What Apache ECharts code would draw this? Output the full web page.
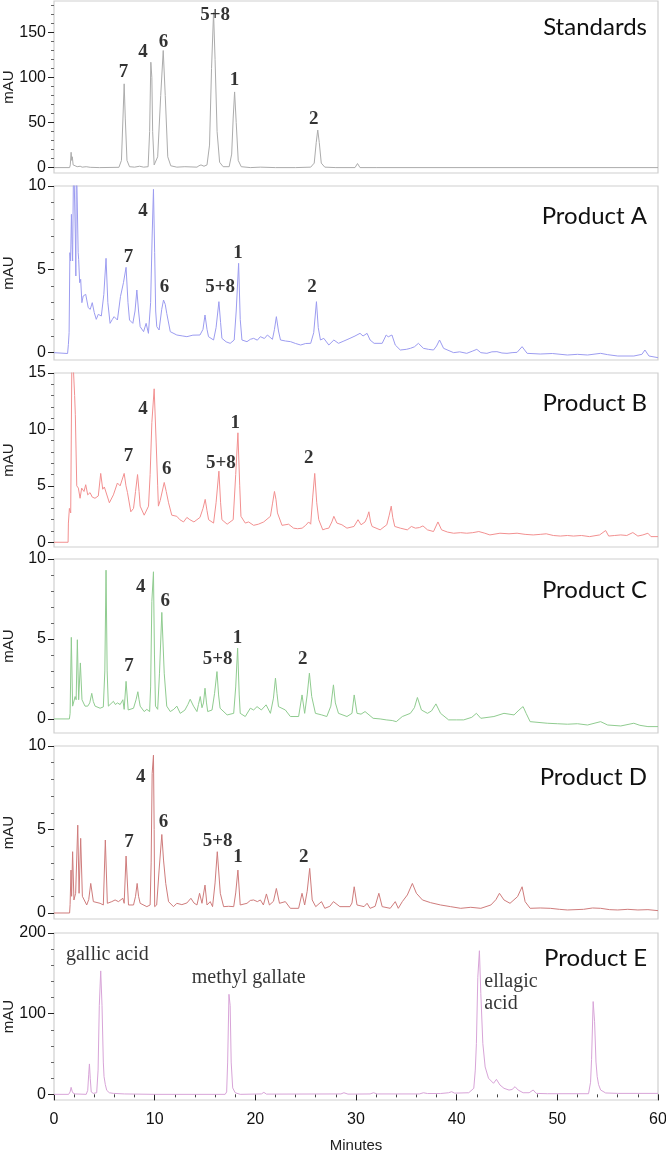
<!DOCTYPE html>
<html><head><meta charset="utf-8">
<script src="https://cdn.jsdelivr.net/npm/echarts@6/dist/echarts.min.js"></script>
<style>html,body{margin:0;padding:0;background:#fff}#c{width:666px;height:1150px}</style>
</head><body><div id="c"></div>
<script>
// ---- data (retention time in minutes, absorbance in mAU) ----
const panelNames = ['Standards','Product A','Product B','Product C','Product D','Product E'];
const yTicks = [[0,50,100,150],[0,5,10],[0,5,10,15],[0,5,10],[0,5,10],[0,100,200]];
const xTicks = [0,10,20,30,40,50,60];

const stdTrace = [[0,0],[1.55,0],[1.62,3],[1.7,17],[1.76,8],[1.82,12],[1.9,3],[2.1,2],[2.3,1],[2.6,1.5],[2.8,0.5],[3.2,1],[3.6,0.3],[4.5,0],[6.45,0.3],[6.7,8],[6.85,55],[6.97,93],[7.08,55],[7.25,8],[7.5,1],[8.0,0.5],[8.5,1.5],[8.9,0.5],[9.35,1],[9.5,40],[9.62,117],[9.72,100],[9.8,40],[9.95,3],[10.1,5],[10.3,12],[10.6,80],[10.85,130],[11.05,80],[11.3,12],[11.6,2],[12.2,0.5],[13,1],[14.2,0.5],[14.4,2],[14.6,3],[14.9,1.5],[15.2,3],[15.45,25],[15.65,110],[15.85,172],[16.0,120],[16.2,40],[16.45,6],[16.8,1],[17.4,1],[17.65,15],[17.8,55],[17.94,84],[18.1,50],[18.3,8],[18.6,1],[19.5,0],[20.5,0.5],[22,0],[24,0],[25.5,0.5],[25.85,5],[26.05,28],[26.2,41.7],[26.35,28],[26.55,5],[26.9,0.5],[28,0],[29.9,0],[30.15,4.5],[30.4,0],[32,0],[60,0]];

const prodA = [[0,0],[1.35,-0.05],[1.43,0.5],[1.5,1.2],[1.58,6.0],[1.65,5.5],[1.73,8.3],[1.8,6.5],[1.85,5.5],[1.95,12],[2.05,12],[2.12,7],[2.17,4.6],[2.22,12],[2.32,12],[2.4,6],[2.45,5.6],[2.55,4.2],[2.65,4.4],[2.77,3.0],[2.9,3.4],[3.0,3.5],[3.15,3.5],[3.4,2.7],[3.6,2.6],[3.8,3.0],[4.0,2.4],[4.2,2.0],[4.4,2.3],[4.7,2.2],[4.95,3.5],[5.17,5.66],[5.35,3.0],[5.57,1.76],[5.8,2.0],[5.97,2.16],[6.3,1.96],[6.6,3.36],[6.9,4.2],[7.16,5.12],[7.35,3.0],[7.5,1.96],[7.83,1.76],[8.05,2.5],[8.23,3.76],[8.4,2.5],[8.56,1.56],[8.9,1.26],[9.15,1.76],[9.38,1.16],[9.6,3],[9.75,7],[9.88,9.8],[10.0,6],[10.1,2.5],[10.21,1.56],[10.44,1.36],[10.7,2.6],[10.88,3.16],[11.05,2.9],[11.2,2.36],[11.55,1.26],[12.2,1.06],[12.8,1.0],[13.2,0.96],[13.8,1.05],[14.5,1.06],[14.8,1.4],[15.0,2.26],[15.2,1.4],[15.35,0.96],[15.85,0.76],[16.1,1.5],[16.38,3.06],[16.55,1.8],[16.68,0.86],[17.1,0.65],[17.5,0.56],[17.9,0.76],[18.1,2.5],[18.34,5.36],[18.5,2.0],[18.67,0.76],[19.17,0.66],[19.5,0.8],[19.83,0.86],[20.2,0.75],[20.5,0.96],[20.9,0.85],[21.2,1.06],[21.7,0.8],[21.9,1.4],[22.09,2.16],[22.3,1.3],[22.5,0.76],[23.0,0.7],[23.5,0.66],[24.0,0.55],[24.5,0.46],[25.0,0.55],[25.5,0.56],[25.8,1.2],[26.07,3.06],[26.25,1.5],[26.47,0.76],[26.8,0.86],[27.3,0.46],[27.8,0.76],[28.26,0.56],[28.8,0.7],[29.4,0.86],[29.9,1.0],[30.4,1.16],[30.7,1.0],[31.1,1.16],[31.4,0.76],[31.8,0.56],[32.6,0.56],[33.0,1.06],[33.2,0.95],[33.57,1.06],[33.9,0.46],[34.4,0.16],[35.0,0.2],[35.4,0.26],[35.8,0.35],[36.2,0.56],[36.7,0.26],[37.2,0.2],[37.7,0.16],[38.0,0.4],[38.3,0.76],[38.7,0.26],[39.7,0.0],[40.3,0.05],[41.0,-0.04],[41.6,0.1],[42.0,0.2],[42.4,0.0],[43.0,-0.04],[43.5,0.05],[44.0,0.06],[44.5,-0.02],[45.0,-0.04],[45.5,0.0],[46.0,0.02],[46.5,0.36],[47.0,-0.04],[48.3,-0.08],[49.5,-0.05],[51.0,-0.14],[52.0,-0.1],[53.0,-0.14],[54.3,-0.04],[55.0,-0.12],[56.0,-0.2],[57.6,-0.2],[58.4,-0.1],[58.7,0.16],[59.1,-0.2],[60,-0.3]];

const prodB = [[0,0],[1.4,0],[1.43,1.7],[1.53,3.0],[1.66,2.6],[1.79,18],[1.95,18],[2.05,13],[2.12,11.3],[2.19,11.3],[2.26,5.0],[2.42,4.8],[2.59,3.9],[2.75,4.8],[2.98,4.5],[3.15,5.1],[3.35,4.2],[3.58,4.4],[3.8,4.0],[4.07,3.9],[4.4,4.1],[4.64,6.1],[4.84,4.7],[5.0,4.9],[5.17,4.8],[5.5,3.5],[5.9,4.2],[6.3,5.25],[6.57,5.0],[6.97,6.1],[7.15,5.0],[7.3,4.4],[7.63,2.7],[7.9,3.0],[8.1,4.5],[8.3,6.0],[8.45,4.5],[8.56,3.2],[8.96,2.4],[9.39,3.2],[9.55,6],[9.72,10.6],[9.95,13.6],[10.15,8.8],[10.3,5],[10.37,3.2],[10.55,3.7],[10.95,5.3],[11.15,4.5],[11.38,3.5],[11.7,2.4],[12.2,2.3],[12.5,2.0],[12.87,1.8],[13.2,2.2],[13.5,2.0],[13.9,1.8],[14.2,2.0],[14.5,2.2],[14.8,3.0],[15.02,3.8],[15.2,2.8],[15.36,2.0],[15.85,1.7],[16.1,3.5],[16.38,6.3],[16.55,3.5],[16.68,2.0],[17.2,1.6],[17.8,2.0],[18.05,6],[18.27,9.7],[18.45,5],[18.57,2.3],[19.0,1.7],[19.33,1.8],[19.83,1.5],[20.3,1.6],[20.83,1.8],[21.5,2.3],[21.7,3.4],[21.9,4.5],[22.05,3.8],[22.2,2.6],[22.65,1.5],[23.3,1.6],[23.8,1.25],[24.2,1.2],[24.65,1.25],[25.0,1.5],[25.3,1.8],[25.5,1.6],[25.7,4],[25.9,6.1],[26.1,3.5],[26.3,2.0],[26.7,1.1],[27.0,1.2],[27.3,1.25],[27.6,1.8],[27.8,2.3],[28.1,1.7],[28.6,1.55],[29.1,1.25],[29.8,1.4],[30.2,2.0],[30.5,1.55],[30.9,1.8],[31.1,2.2],[31.28,2.7],[31.45,1.8],[31.6,1.4],[32.4,1.1],[33.06,1.55],[33.3,2.4],[33.5,3.2],[33.65,2.2],[33.85,1.4],[34.4,1.25],[35.1,1.1],[35.5,1.4],[35.9,1.25],[36.3,1.3],[36.65,1.45],[37.1,1.1],[37.7,0.95],[38.14,1.8],[38.5,1.1],[39.1,0.9],[39.7,0.8],[40.4,0.85],[41.0,0.8],[41.6,0.85],[42.2,0.95],[42.8,0.8],[43.3,0.65],[44.3,0.8],[45.2,0.75],[46.0,0.8],[46.8,0.7],[47.6,0.65],[48.3,0.7],[48.9,0.75],[49.6,0.6],[50.3,0.55],[51.0,0.6],[51.6,0.55],[52.4,0.6],[53.2,0.5],[54.2,0.65],[54.8,1.04],[55.1,0.55],[55.7,0.6],[56.3,0.65],[56.9,0.6],[57.5,0.86],[58.0,0.55],[58.5,0.65],[59.0,0.8],[59.3,0.5],[60,0.5]];

const prodC = [[0,0],[1.53,0],[1.6,0.35],[1.72,5.1],[1.85,0.8],[2.1,1.4],[2.2,1.2],[2.32,4.95],[2.45,1.2],[2.62,3.5],[2.78,1.2],[3.08,0.8],[3.35,0.8],[3.55,1.0],[3.75,1.6],[3.9,1.1],[4.08,0.8],[4.58,0.67],[4.9,0.75],[5.05,3],[5.17,9.3],[5.28,3],[5.4,0.8],[5.9,1.1],[6.1,0.9],[6.3,1.0],[6.57,0.9],[6.84,1.2],[6.97,0.6],[7.16,2.35],[7.37,0.56],[7.9,0.67],[8.15,1.2],[8.33,1.7],[8.45,1.2],[8.56,0.8],[8.96,0.46],[9.22,0.6],[9.5,0.46],[9.6,2],[9.72,7.35],[9.88,9.2],[9.98,4],[10.08,0.8],[10.3,0.6],[10.48,2.86],[10.71,6.66],[10.95,2.86],[11.2,0.8],[11.55,0.46],[11.9,0.6],[12.2,0.8],[12.54,0.35],[13.0,0.55],[13.3,0.9],[13.53,1.23],[13.86,0.8],[14.2,0.46],[14.35,0.9],[14.53,1.4],[14.7,0.7],[14.85,1.0],[15.0,1.92],[15.15,1.0],[15.27,0.46],[15.7,0.56],[15.95,1.6],[16.19,2.96],[16.35,1.5],[16.5,0.67],[17.2,0.25],[17.85,0.35],[18.05,2],[18.24,4.43],[18.4,1.5],[18.5,0.35],[19.0,0.15],[19.5,0.67],[19.83,0.56],[20.17,0.77],[20.6,0.56],[21.07,0.88],[21.5,0.35],[21.8,1.3],[22.0,2.55],[22.15,1.6],[22.3,0.77],[22.98,0.56],[23.48,0.15],[24.3,0.15],[24.64,1.5],[24.9,0.35],[25.15,1.5],[25.37,2.86],[25.6,1.4],[25.97,0.35],[26.6,0.25],[27.1,0.15],[27.5,0.8],[27.76,2.13],[27.95,1.0],[28.26,0.35],[29.1,0.15],[29.6,0.35],[29.82,1.5],[30.1,0.35],[30.5,0.3],[30.9,0.46],[31.7,0.04],[32.4,0.0],[33.0,-0.06],[33.6,-0.1],[34.0,-0.17],[34.6,0.15],[35.4,0.35],[35.8,0.7],[36.1,1.34],[36.5,0.56],[37.1,0.35],[37.5,0.5],[37.94,0.94],[38.4,0.35],[39.2,-0.06],[40.0,-0.06],[40.7,-0.06],[41.5,0.1],[41.96,0.35],[42.4,0.04],[43.7,0.15],[44.7,0.35],[45.2,0.3],[45.7,0.25],[46.1,0.5],[46.4,0.67],[46.6,0.77],[46.9,0.35],[47.3,-0.17],[49.0,-0.27],[50.0,-0.3],[51.0,-0.33],[52.0,-0.3],[53.0,-0.38],[54.3,-0.17],[55.0,-0.38],[56.3,-0.44],[57.6,-0.27],[58.2,-0.4],[59.0,-0.48],[60,-0.48]];

const prodD = [[0,0],[1.55,0],[1.6,0.5],[1.69,2.57],[1.75,1],[1.85,3.67],[1.98,0.78],[2.15,1.18],[2.36,5.26],[2.49,1.18],[2.65,4.47],[2.82,1.0],[3.25,0.48],[3.45,0.8],[3.65,1.77],[3.91,0.68],[4.58,0.58],[4.9,0.48],[5.1,4.37],[5.3,0.58],[5.74,0.68],[6.07,0.78],[6.4,0.68],[6.84,0.88],[6.97,0.58],[7.16,3.41],[7.4,0.48],[7.9,0.48],[8.1,1.0],[8.26,1.77],[8.4,1.0],[8.56,0.58],[9.22,0.38],[9.55,0.48],[9.65,3],[9.75,8.35],[9.88,9.45],[9.95,5],[10.0,0.38],[10.2,0.48],[10.44,2.57],[10.71,4.7],[10.88,3.17],[11.1,1.77],[11.38,0.68],[11.87,0.38],[12.2,0.58],[12.7,0.5],[13.2,0.6],[13.6,0.88],[13.9,0.6],[14.2,0.48],[14.46,1.18],[14.7,0.58],[15.0,1.67],[15.2,0.48],[15.52,0.68],[15.75,0.38],[16.0,1.8],[16.22,3.67],[16.52,1.18],[16.85,0.38],[17.35,0.4],[17.85,0.38],[18.05,1.2],[18.27,2.57],[18.5,0.48],[19.17,0.58],[19.5,0.75],[19.83,0.78],[20.2,0.68],[20.5,0.78],[20.8,0.48],[21.1,1.14],[21.4,0.48],[21.8,0.7],[22.09,1.47],[22.4,0.58],[22.98,0.68],[23.48,0.28],[24.3,0.28],[24.64,1.18],[24.9,0.48],[25.15,1.3],[25.4,2.67],[25.65,0.78],[26.0,0.38],[26.57,0.68],[26.9,0.28],[27.4,0.4],[27.76,0.68],[28.4,0.38],[29.4,0.38],[29.6,0.6],[29.82,1.57],[30.1,0.48],[30.8,0.38],[31.1,0.58],[31.4,0.28],[31.9,0.4],[32.27,1.18],[32.6,0.38],[33.4,0.28],[33.9,0.68],[34.2,0.28],[34.6,0.68],[35.1,1.08],[35.6,1.77],[36.0,1.18],[36.6,0.78],[37.4,0.62],[38.4,0.48],[39.4,0.38],[40.4,0.28],[41.4,0.34],[42.4,0.28],[43.4,0.48],[43.9,0.8],[44.25,1.18],[44.7,0.78],[45.3,0.58],[46.05,0.98],[46.5,1.57],[46.8,0.68],[47.3,0.28],[48.3,0.3],[49.3,0.28],[50.2,0.22],[51.0,0.18],[52.6,0.22],[53.5,0.3],[54.3,0.28],[55.2,0.2],[56.0,0.18],[57.0,0.22],[58.0,0.18],[59.0,0.2],[60,0.14]];

const prodE = [[0,0],[1.45,0],[1.6,3],[1.7,8.7],[1.8,4],[1.9,1.5],[2.1,0.5],[3.2,0],[3.35,5],[3.45,25],[3.52,37.7],[3.6,20],[3.7,3],[3.9,1.2],[4.24,2],[4.38,30],[4.5,110],[4.64,153],[4.77,110],[4.9,40],[4.97,22],[5.1,12],[5.24,5],[5.5,2],[5.9,1.2],[7,0.5],[10,0],[17.0,0],[17.15,3],[17.25,40],[17.38,124],[17.5,110],[17.6,40],[17.75,8],[18.0,2],[18.5,0],[20.6,0.5],[20.85,2.5],[21.1,0.3],[28.5,0.5],[28.8,2],[29.2,0.3],[31.4,0.5],[31.74,2],[32.1,0.5],[36.3,0.5],[36.7,2],[37.1,1],[38.4,1],[39.2,2],[39.5,3.3],[39.8,1.5],[41.2,2],[41.7,7.5],[41.85,30],[41.96,63],[42.1,145],[42.26,178],[42.4,125],[42.6,63],[42.83,34],[43.16,20],[43.66,13.7],[43.95,18.6],[44.3,11.6],[44.7,7.5],[45.2,5.3],[45.5,6],[45.8,9.5],[46.1,5.4],[46.6,2],[47.2,2],[47.6,5.4],[47.9,1.2],[49,0.8],[53.1,0.8],[53.3,15],[53.4,43],[53.56,115],[53.7,90],[53.84,40],[53.96,22],[54.1,12],[54.3,5.4],[54.8,1.7],[56,1.2],[60,1.2]];

// peak annotations: [time, mAU, text]
const stdLabels = [[6.9,106,'7'],[8.83,128.7,'4'],[10.88,139.8,'6'],[16.0,169.4,'5+8'],[17.94,97.2,'1'],[25.8,53.5,'2']];
const aLabels = [[7.4,5.72,'7'],[8.83,8.52,'4'],[10.98,3.92,'6'],[16.5,3.92,'5+8'],[18.28,6.0,'1'],[25.64,3.92,'2']];
const bLabels = [[7.4,7.63,'7'],[8.83,11.84,'4'],[11.21,6.5,'6'],[16.57,7.03,'5+8'],[18.0,10.53,'1'],[25.3,7.48,'2']];
const cLabels = [[7.46,3.28,'7'],[8.62,8.25,'4'],[11.04,7.39,'6'],[16.25,3.76,'5+8'],[18.24,5.05,'1'],[24.7,3.76,'2']];
const dLabels = [[7.46,4.27,'7'],[8.62,8.11,'4'],[10.88,5.46,'6'],[16.25,4.33,'5+8'],[18.27,3.37,'1'],[24.8,3.37,'2']];
const eLabels = [[5.3,173,'gallic acid'],[19.34,145,'methyl gallate'],[42.75,126,'ellagic\nacid']];

// ---- layout / style ----
const traces = [stdTrace, prodA, prodB, prodC, prodD, prodE];
const labelSets = [stdLabels, aLabels, bLabels, cLabels, dLabels, eLabels];
const colors = ['#acacac','#9c9cf0','#f29090','#90cc90','#cf7c7c','#d8a4d8'];
const tops = [1,186,373,559,746,933];
const heights = [172,174,174,174,173,167];
const yMin = [-6,-0.44,-0.42,-0.88,-0.36,-7];
const yMax = [185,10,15,10,10,200];
const minorStep = [10,1,1,1,1,20];
const titleY = [27,216,403,590,777,958];

const grids=[], xAxes=[], yAxes=[], series=[], graphics=[];
for (let i=0;i<6;i++){
  grids.push({left:54,right:8,top:tops[i],height:heights[i],outerBoundsMode:'none',containLabel:false,
    show:true,borderColor:'#cfcfcf',borderWidth:1.2,backgroundColor:'#fff'});
  const last = i===5;
  xAxes.push({type:'value',gridIndex:i,min:0,max:60,interval:10,show:last,
    axisLine:{show:false},
    axisTick:{show:true,length:6,lineStyle:{color:'#222'}},
    minorTick:{show:true,splitNumber:5,length:3,lineStyle:{color:'#444'}},
    splitLine:{show:false},minorSplitLine:{show:false},
    axisLabel:{show:true,margin:12,fontFamily:'Liberation Sans',fontSize:16,color:'#111'},
    name:last?'Minutes':'',nameLocation:'middle',nameGap:38,nameMoveOverlap:false,
    nameTextStyle:{fontFamily:'Liberation Sans',fontSize:15,color:'#222'}});
  const minors=[];
  for(let v=Math.ceil(yMin[i]/minorStep[i])*minorStep[i]; v<=yMax[i]+1e-9; v+=minorStep[i]){
    if(!yTicks[i].some(t=>Math.abs(t-v)<1e-9) && v>=0) minors.push(+v.toFixed(4));
  }
  yAxes.push({type:'value',gridIndex:i,min:yMin[i],max:yMax[i],position:'left',
    axisLine:{show:false},splitLine:{show:false},
    axisTick:{show:true,length:6,customValues:yTicks[i],lineStyle:{color:'#222'}},
    axisLabel:{show:true,customValues:yTicks[i],margin:8,fontFamily:'Liberation Sans',fontSize:16,color:'#111'},
    name:'mAU',nameLocation:'middle',nameGap:38,nameRotate:90,nameMoveOverlap:false,
    nameTextStyle:{fontFamily:'Liberation Sans',fontSize:15,color:'#222'}});
  yAxes.push({type:'value',gridIndex:i,min:yMin[i],max:yMax[i],position:'left',
    axisLine:{show:false},splitLine:{show:false},
    axisTick:{show:true,length:3,customValues:minors,lineStyle:{color:'#666'}},
    axisLabel:{show:false}});
  series.push({type:'line',xAxisIndex:i,yAxisIndex:2*i,data:traces[i],showSymbol:false,symbol:'none',
    lineStyle:{color:colors[i],width:1},clip:true,silent:true,z:3});
  const isE = i===5;
  series.push({type:'scatter',xAxisIndex:i,yAxisIndex:2*i,symbolSize:0,silent:true,z:5,
    data:labelSets[i].map(d=>({value:[d[0],d[1]],name:d[2],
      label:(isE && d[2].indexOf('\n')>=0)?{align:'left'}:{}})),
    label:{show:true,position:'inside',formatter:p=>p.name,
      fontFamily:'Liberation Serif',fontWeight:isE?'normal':'bold',fontSize:isE?20:19,
      lineHeight:isE?22:20,color:'#000',textBorderWidth:0}});
  graphics.push({type:'text',x:647,y:titleY[i],style:{text:panelNames[i],font:'24px Lato',fill:'#111',textAlign:'right',textVerticalAlign:'middle'}});
}

const chart = echarts.init(document.getElementById('c'),null,{renderer:'canvas'});
chart.setOption({animation:false,grid:grids,xAxis:xAxes,yAxis:yAxes,series:series,graphic:graphics});
</script></body></html>
